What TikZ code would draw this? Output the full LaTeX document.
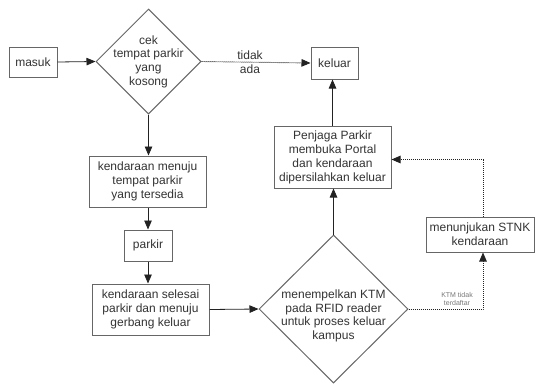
\documentclass[tikz,border=0pt]{standalone}
\usepackage{fontspec}
\setmainfont{Liberation Sans}
\usetikzlibrary{shapes.geometric,arrows.meta}
\definecolor{linec}{HTML}{222222}
\definecolor{boxc}{HTML}{666666}
\definecolor{txtc}{HTML}{333333}
\definecolor{smallc}{HTML}{777777}
\begin{document}
\begin{tikzpicture}[x=1pt,y=-1pt,
  box/.style={draw=boxc, line width=1pt, rectangle, inner sep=0pt, align=center, text=txtc, font=\fontsize{12}{14}\selectfont},
  dia/.style={draw=boxc, line width=1pt, diamond, inner sep=0pt},
  dtext/.style={align=center, text=txtc, font=\fontsize{12}{13.7}\selectfont, inner sep=0pt},
  arr/.style={draw=linec, line width=0.8pt, -{Triangle[length=9pt,width=7.5pt]}},
  darr/.style={arr, line width=0.9pt, dash pattern=on 1pt off 1pt},
  lbl/.style={align=center, text=txtc, font=\fontsize{12}{14}\selectfont, inner sep=0pt},
  slbl/.style={align=center, text=smallc, font=\fontsize{7}{8.7}\selectfont, inner sep=0pt}]
\useasboundingbox[fill=white] (0,0) rectangle (537,383);

\node[box, minimum width=48pt, minimum height=30pt] (masuk) at (33,62) {masuk};
\node[dia, minimum width=105pt, minimum height=105pt] (d1) at (148.5,61.5) {};
\node[dtext] (d1t) at (148.5,61.5) {cek\\tempat parkir\\yang\\kosong};
\node[box, minimum width=47pt, minimum height=32pt] (keluar) at (334.5,63) {keluar};
\node[box, minimum width=117pt, minimum height=51pt] (b2) at (147.5,181.5) {kendaraan menuju\\tempat parkir\\yang tersedia};
\node[box, minimum width=48pt, minimum height=31pt] (parkir) at (148,245.5) {parkir};
\node[box, minimum width=117pt, minimum height=51pt] (b3) at (150.5,309.5) {kendaraan selesai\\parkir dan menuju\\gerbang keluar};
\node[dia, minimum width=149pt, minimum height=148pt] (d2) at (333.5,309) {};
\node[dtext] (d2t) at (333.5,316) {menempelkan KTM\\pada RFID reader\\untuk proses keluar\\kampus};
\node[box, minimum width=117pt, minimum height=62pt] (portal) at (332.5,157) {Penjaga Parkir\\membuka Portal\\dan kendaraan\\dipersilahkan keluar};
\node[box, minimum width=108pt, minimum height=35pt] (stnk) at (480,234.5) {menunjukan STNK\\kendaraan};

\coordinate (sx) at (483,240);
\coordinate (py) at (0,159.5);

\draw[arr] (masuk.east) -- (d1.west);
\draw[darr] (d1.east) -- (keluar.west);
\node[lbl] (tidak) at (250,62) {tidak\\ada};
\draw[arr] (d1.south) -- (d1.south |- b2.north);
\draw[arr] (b2.south -| parkir.south) -- (parkir.north);
\draw[arr] (parkir.south) -- (parkir.south |- b3.north);
\draw[arr] (b3.east) -- (d2.west);
\draw[arr] (d2.north) -- (d2.north |- portal.south);
\draw[arr] (portal.north) -- (portal.north |- keluar.south);
\draw[darr] (d2.east) -| (sx |- stnk.south);
\node[slbl] (ktm) at (457,299) {KTM tidak\\terdaftar};
\draw[darr] (sx |- stnk.north) |- (portal.east |- py);
\end{tikzpicture}
\end{document}
